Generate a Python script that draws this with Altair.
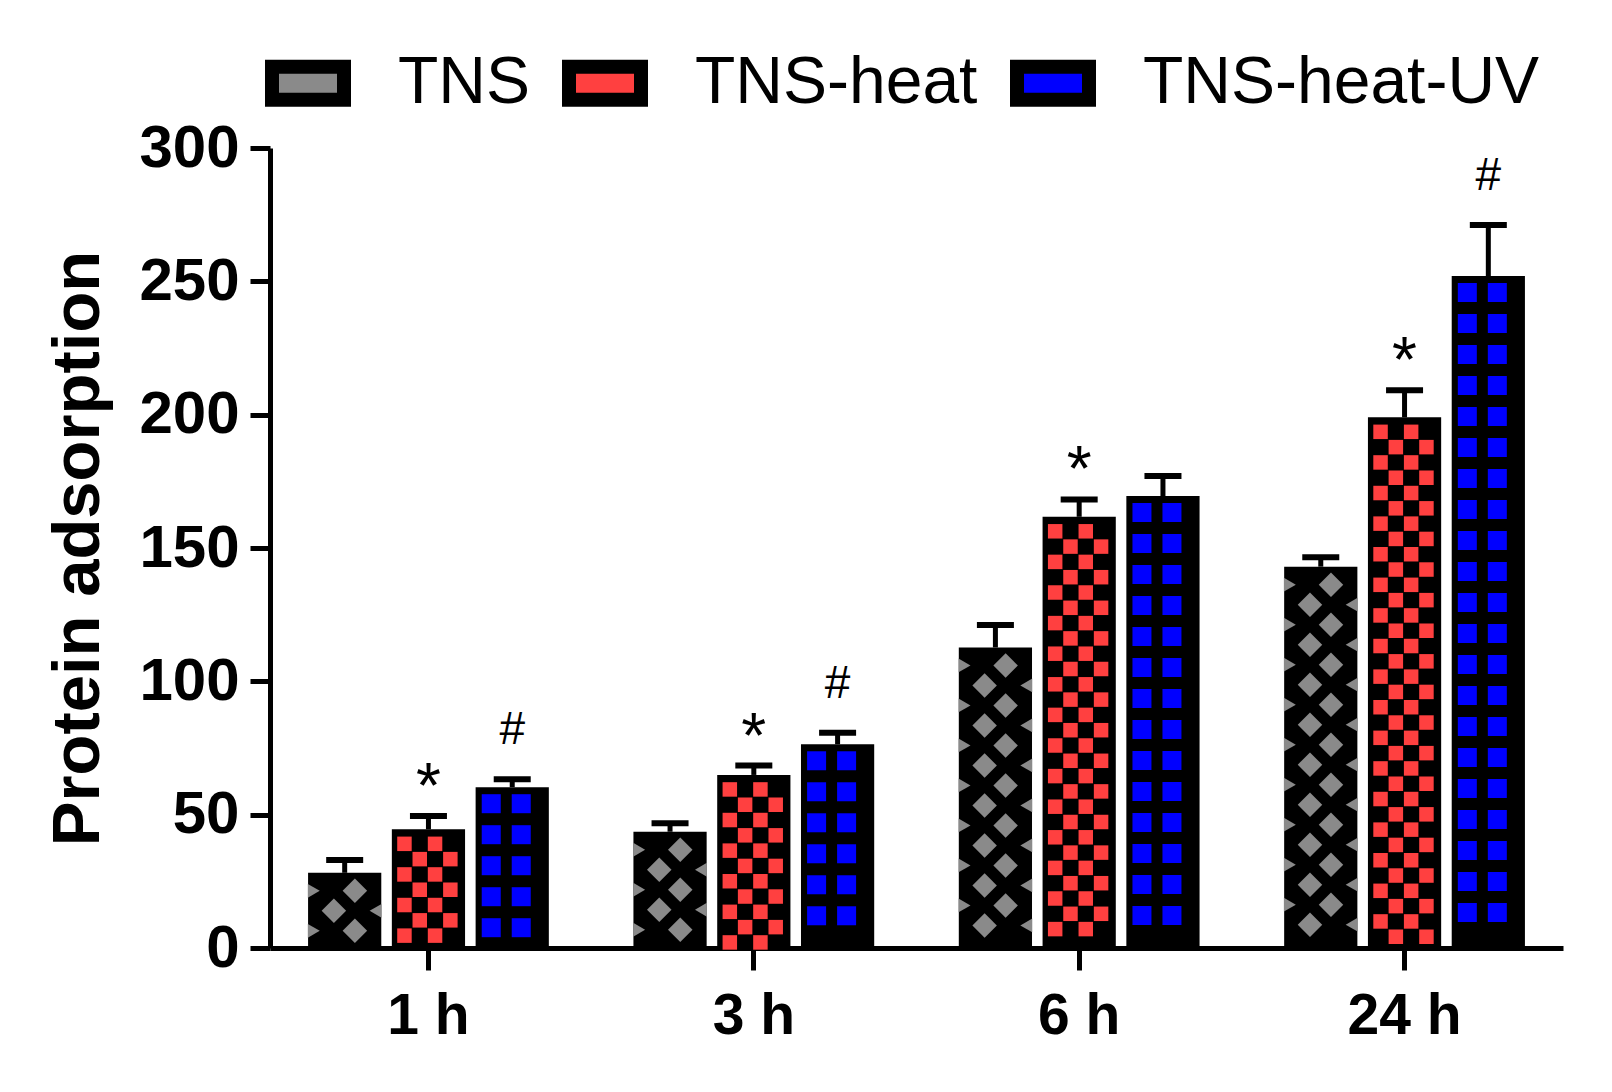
import altair as alt
import pandas as pd

# ---------------- data ----------------
times = ["1 h", "3 h", "6 h", "24 h"]
groups = ["TNS", "TNS-heat", "TNS-heat-UV"]
tns_mean = [28.2, 43.6, 112.7, 143.0]
tns_err = [4.8, 3.2, 8.4, 3.5]
heat_mean = [44.5, 64.9, 161.7, 199.0]
heat_err = [5.0, 3.5, 6.5, 10.2]
uv_mean = [60.3, 76.4, 169.5, 252.0]
uv_err = [3.0, 4.3, 7.5, 19.1]
heat_marks = ["*", "*", "*", "*"]
uv_marks = ["#", "#", "", "#"]
y_ticks = [0, 50, 100, 150, 200, 250, 300]
colors = ["#8a8a8a", "#ff4040", "#0000ff"]

FONT = "Liberation Sans, Arial, Helvetica, sans-serif"

# ---------------- layout ----------------
W, H = 1293, 800
YMAX = 300
PX = H / YMAX
X_PI, X_PO = 0.26, 0.117
OFF_PI = 0.126
step = W / (len(times) - X_PI + 2 * X_PO)
bw = step * (1 - X_PI)
step2 = bw / (len(groups) - OFF_PI)
bw2 = step2 * (1 - OFF_PI)

means = [tns_mean, heat_mean, uv_mean]
errs = [tns_err, heat_err, uv_err]

rows = []
for gi, g in enumerate(groups):
    for ti, t in enumerate(times):
        rows.append({"time": t, "series": g, "mean": means[gi][ti],
                     "upper": means[gi][ti] + errs[gi][ti]})
bars = pd.DataFrame(rows)

ann = []
for ti, t in enumerate(times):
    ann.append({"time": t, "series": groups[1], "upper": heat_mean[ti] + heat_err[ti], "label": heat_marks[ti]})
    ann.append({"time": t, "series": groups[2], "upper": uv_mean[ti] + uv_err[ti], "label": uv_marks[ti]})
ann = pd.DataFrame(ann)


# fill patterns (decoration drawn inside each bar)
def pattern(gi, first_px, pitch_px, half_px, cols):
    out = []
    for ti, t in enumerate(times):
        top_px = means[gi][ti] * PX
        k = 0
        while True:
            c = top_px - first_px - k * pitch_px
            if c < half_px - 2:
                break
            for rel, kind in cols[k % 2]:
                out.append({"time": t, "series": groups[gi], "yv": c / PX,
                            "off": (gi * step2 + bw2 / 2 + rel) / bw, "kind": kind})
            k += 1
    return out


pat = []
pat += pattern(0, 18, 20, 12, [[(-30.9, "tr"), (10.2, "dm")], [(-10.8, "dm"), (30.9, "tl")]])
pat += pattern(1, 14.5, 15.3, 7, [[(-24, "rs"), (6.6, "rs")], [(-8.7, "rs"), (21.9, "rs")]])
pat += pattern(2, 16.5, 31, 9.5, [[(-21, "bs"), (9, "bs")], [(-21, "bs"), (9, "bs")]])
pat = pd.DataFrame(pat)

# ---------------- encodings ----------------
x_enc = alt.X("time:N", sort=times,
              scale=alt.Scale(paddingInner=X_PI, paddingOuter=X_PO),
              axis=alt.Axis(title=None, labelAngle=0, tickSize=22, labelFontSize=57,
                            labelPadding=18, labelFont=FONT, labelFontWeight="bold",
                            labelColor="black", domainColor="black", domainWidth=5,
                            tickColor="black", tickWidth=5))
y_enc = alt.Y("mean:Q",
              scale=alt.Scale(domain=[0, YMAX], nice=False),
              axis=alt.Axis(values=y_ticks, tickSize=20, labelFontSize=60, labelPadding=11,
                            labelFont=FONT, labelFontWeight="bold", labelColor="black",
                            domainColor="black", domainWidth=5, tickColor="black", tickWidth=5,
                            title="Protein adsorption", titleFont=FONT, titleFontSize=67,
                            titleFontWeight="bold", titleColor="black", titleX=-172,
                            titleY=H / 2, titleAngle=-90, titleAlign="center",
                            titleBaseline="alphabetic"))
off_enc = alt.XOffset("series:N", sort=groups,
                      scale=alt.Scale(domain=groups, paddingInner=OFF_PI, paddingOuter=0))
qoff = alt.XOffset("off:Q", scale=alt.Scale(domain=[0, 1], nice=False, zero=False))

base = alt.Chart(bars)

bar_layer = base.mark_bar(color="black", opacity=1).encode(x=x_enc, xOffset=off_enc, y=y_enc)

legend_layer = base.mark_point(filled=True, shape="square", opacity=0).encode(
    x=x_enc, xOffset=off_enc, y=alt.Y("mean:Q"),
    fill=alt.Fill("series:N", scale=alt.Scale(domain=groups, range=colors),
                  legend=alt.Legend(title=None, orient="none", legendX=-5, legendY=-108,
                                    direction="horizontal",
                                    symbolType="M-1,-0.46H1V0.46H-1Z",
                                    symbolSize=5184, symbolStrokeColor="black",
                                    symbolStrokeWidth=14, symbolOpacity=1,
                                    labelFont=FONT, labelFontSize=66, labelColor="black",
                                    labelOffset=47, labelLimit=1000, columnPadding=11,
                                    padding=0)))

stem = base.mark_rule(color="black", strokeWidth=5, opacity=1).encode(
    x=x_enc, xOffset=off_enc, y=alt.Y("mean:Q"), y2="upper:Q")
cap = base.mark_tick(color="black", thickness=6, size=37, opacity=1).encode(
    x=x_enc, xOffset=off_enc, y=alt.Y("upper:Q"))

abase = alt.Chart(ann)
stars = abase.transform_filter(alt.datum.label == "*").mark_text(
    font=FONT, fontSize=64, color="black", baseline="alphabetic", dy=-8).encode(
    x=x_enc, xOffset=off_enc, y=alt.Y("upper:Q"), text="label:N")
hashes = abase.transform_filter(alt.datum.label == "#").mark_text(
    font=FONT, fontSize=46, color="black", baseline="alphabetic", dy=-35).encode(
    x=x_enc, xOffset=off_enc, y=alt.Y("upper:Q"), text="label:N")

pbase = alt.Chart(pat)


def pat_layer(kind, shape, size, color):
    return pbase.transform_filter(alt.datum.kind == kind).mark_point(
        filled=True, shape=shape, size=size, opacity=1, color=color, strokeWidth=0
    ).encode(x=x_enc, xOffset=qoff, y=alt.Y("yv:Q"))


p_dm = pat_layer("dm", "diamond", 600, colors[0])
p_tr = pat_layer("tr", "triangle-right", 190, colors[0])
p_tl = pat_layer("tl", "triangle-left", 190, colors[0])
p_rs = pat_layer("rs", "square", 210, colors[1])
p_bs = pat_layer("bs", "square", 361, colors[2])

bars_part = alt.layer(bar_layer, legend_layer)
pattern_part = alt.layer(p_dm, p_tr, p_tl, p_rs, p_bs)
top_part = alt.layer(stem, cap, stars, hashes)

chart = alt.layer(bars_part, pattern_part, top_part).resolve_scale(
    xOffset="independent"
).properties(
    width=W, height=H,
    autosize=alt.AutoSizeParams(type="none"),
    padding={"left": 262, "top": 140, "right": 40, "bottom": 140},
).configure_view(stroke=None).configure_axis(grid=False)

chart.save("out.html", embed_options={"renderer": "svg", "actions": False})
